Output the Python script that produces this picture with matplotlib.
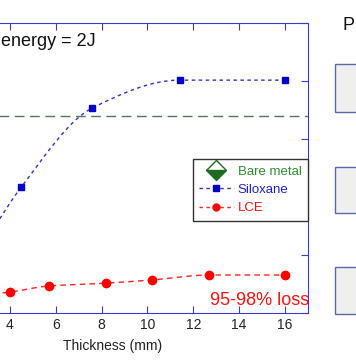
import matplotlib
matplotlib.use('Agg')
import matplotlib.pyplot as plt
from matplotlib.lines import Line2D
from matplotlib.patches import Rectangle, PathPatch
from matplotlib.path import Path

plt.rcParams['font.family'] = ['Liberation Sans', 'DejaVu Sans']

# data
silox_x = [2.0, 4.5, 7.6, 11.4, 16.0]
silox_y = [12.0, 43.4, 70.7, 80.3, 80.3]
lce_x = [2.0, 4.0, 5.7, 8.2, 10.2, 12.7, 16.0]
lce_y = [5.5, 7.2, 9.3, 10.3, 11.4, 13.1, 13.1]
bare_y = 67.9
xticks = [4, 6, 8, 10, 12, 14, 16]
yticks = [0, 20, 40, 60, 80, 100]


def smooth_path(xs, ys):
    # monotone cubic bezier through the points (like the smoothed lines in the figure)
    n = len(xs)
    d = [(ys[i+1]-ys[i])/(xs[i+1]-xs[i]) for i in range(n-1)]
    m = [d[0]] + [0.0]*(n-2) + [d[-1]]
    for i in range(1, n-1):
        if d[i-1]*d[i] > 0:
            m[i] = 2/(1/d[i-1] + 1/d[i])
    verts = [(xs[0], ys[0])]
    codes = [Path.MOVETO]
    for i in range(n-1):
        h = xs[i+1]-xs[i]
        verts += [(xs[i]+h/3, ys[i]+m[i]*h/3),
                  (xs[i+1]-h/3, ys[i+1]-m[i+1]*h/3),
                  (xs[i+1], ys[i+1])]
        codes += [Path.CURVE4]*3
    return Path(verts, codes)


axcol = '#3a3ad0'
fig = plt.figure(figsize=(3.56, 3.64), dpi=100)
ax = fig.add_axes([-82/356, 1-313/364, 390/356, 290/364])

ax.axhline(bare_y, color='#4d7a50', lw=1, dashes=(7, 4))
ax.add_patch(PathPatch(smooth_path(silox_x, silox_y), fill=False,
                       edgecolor='#3030d0', lw=1, ls=(0, (2.5, 2.5))))
ax.plot(silox_x, silox_y, ls='none', marker='s', ms=5, mfc='#0000c8', mec='#0000c8')
ax.add_patch(PathPatch(smooth_path(lce_x, lce_y), fill=False,
                       edgecolor='#ff2020', lw=1, ls=(0, (4, 3))))
ax.plot(lce_x, lce_y, ls='none', marker='o', ms=6, mfc='#ff0000', mec='#ff0000')

ax.set_xlim(0, 17)
ax.set_ylim(0, 100)
ax.set_xticks(xticks)
ax.set_yticks(yticks)
ax.set_yticklabels([])
ax.tick_params(direction='in', top=True, right=True, color=axcol,
               length=5, labelsize=10, labelcolor='#222222')
for s in ax.spines.values():
    s.set_color(axcol)
ax.set_xlabel('Thickness (mm)', fontsize=10, color='#222222', labelpad=5)

ax.text((1+82)/390, 0.921, 'energy = 2J', transform=ax.transAxes,
        ha='left', va='baseline', fontsize=13, color='#111111')
ax.text(0.749, 0.028, '95-98% loss', transform=ax.transAxes,
        ha='left', va='baseline', fontsize=13, color='#ff1010')

handles = [
    Line2D([], [], ls='none', marker='D', ms=10, color='#1f6b1f',
           fillstyle='bottom', mfc='#1f6b1f', mfcalt='white', mec='#1f6b1f'),
    Line2D([], [], color='#3030d0', lw=1, dashes=(2.5, 2.5), marker='s',
           ms=5, mfc='#0000c8', mec='#0000c8'),
    Line2D([], [], color='#ff2020', lw=1, dashes=(2.5, 2.5), marker='o',
           ms=5, mfc='#ff0000', mec='#ff0000'),
]
leg = ax.legend(handles, ['Bare metal', 'Siloxane', 'LCE'],
                loc='upper right', bbox_to_anchor=(1.0, 0.531),
                borderaxespad=0, fontsize=9.5, fancybox=False,
                edgecolor='#333333', framealpha=1, handlelength=2.6,
                handletextpad=0.3, labelspacing=0.45, borderpad=0.5)
leg.get_frame().set_linewidth(1)
for t, c in zip(leg.get_texts(), ['#2f8f2f', '#2020d0', '#ff1010']):
    t.set_color(c)

# part of the neighbouring panel
fig.text(343/356, 1-30/364, 'P', fontsize=13, ha='left', va='baseline',
         color='#111111')
for top, bot in [(64, 112), (167, 213), (267, 314)]:
    fig.patches.append(Rectangle((335/356, 1-bot/364), 40/356, (bot-top)/364,
                                 transform=fig.transFigure, facecolor='#efefef',
                                 edgecolor='#5a6aa8', lw=1))

fig.savefig('out.png', dpi=100)
